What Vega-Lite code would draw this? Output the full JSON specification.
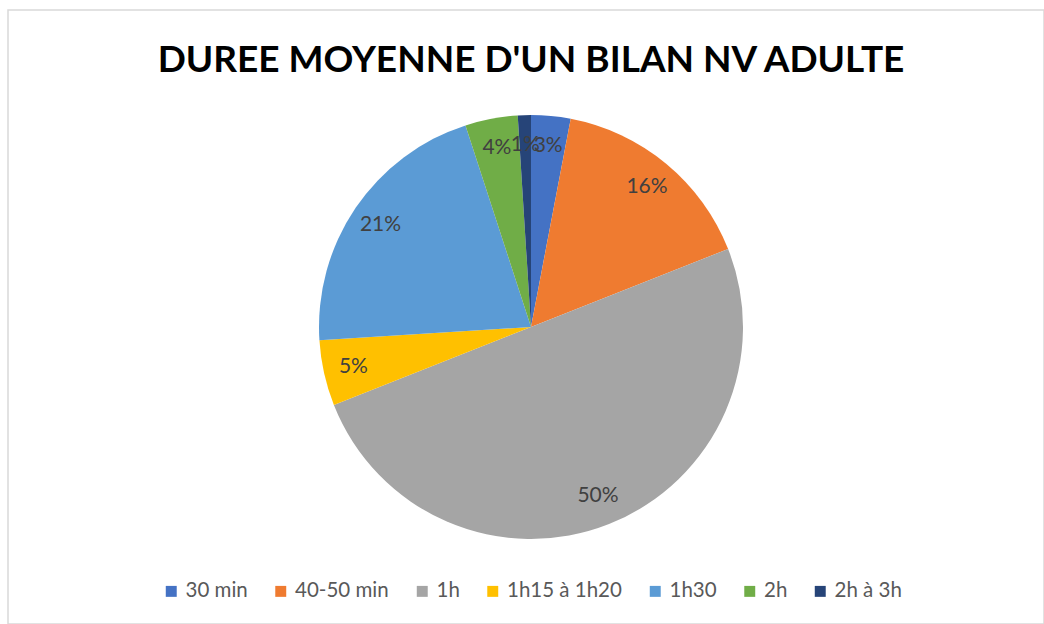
{
  "$schema": "https://vega.github.io/schema/vega-lite/v6.json",
  "autosize": "none",
  "padding": {"left": 8, "top": 10, "right": 0, "bottom": 0},
  "width": 1036,
  "height": 614,
  "background": "white",
  "view": {"stroke": "#d9d9d9", "strokeWidth": 1.5, "fill": "white"},
  "title": {
    "text": "DUREE MOYENNE D'UN BILAN NV ADULTE",
    "font": "Lato",
    "fontSize": 37,
    "fontWeight": "bold",
    "color": "#000000",
    "anchor": "middle",
    "dx": 5,
    "offset": -70
  },
  "data": {
    "values": [
      {"duree": "30 min", "pct": 3, "ord": 1, "label": "3%"},
      {"duree": "40-50 min", "pct": 16, "ord": 2, "label": "16%"},
      {"duree": "1h", "pct": 50, "ord": 3, "label": "50%"},
      {"duree": "1h15 à 1h20", "pct": 5, "ord": 4, "label": "5%"},
      {"duree": "1h30", "pct": 21, "ord": 5, "label": "21%"},
      {"duree": "2h", "pct": 4, "ord": 6, "label": "4%"},
      {"duree": "2h à 3h", "pct": 1, "ord": 7, "label": "1%"}
    ]
  },
  "encoding": {
    "theta": {"field": "pct", "type": "quantitative", "stack": true},
    "order": {"field": "ord", "type": "quantitative"}
  },
  "layer": [
    {
      "mark": {"type": "arc", "outerRadius": 212, "xOffset": 5, "yOffset": 10},
      "encoding": {
        "color": {
          "field": "duree",
          "type": "nominal",
          "sort": ["30 min", "40-50 min", "1h", "1h15 à 1h20", "1h30", "2h", "2h à 3h"],
          "scale": {
            "domain": ["30 min", "40-50 min", "1h", "1h15 à 1h20", "1h30", "2h", "2h à 3h"],
            "range": ["#4472C4", "#EF7B30", "#A5A5A5", "#FFC000", "#5B9BD5", "#70AD47", "#264478"]
          },
          "legend": {
            "title": null,
            "orient": "none",
            "direction": "horizontal",
            "columns": 7,
            "legendX": 153,
            "legendY": 571,
            "symbolType": "square",
            "symbolSize": 120,
            "symbolStrokeWidth": 0,
            "labelFont": "Lato",
            "labelFontSize": 20.5,
            "labelColor": "#595959",
            "labelOffset": 4,
            "columnPadding": 22.5
          }
        }
      }
    },
    {
      "mark": {"type": "text", "radius": 182, "xOffset": 5, "yOffset": 10, "font": "Lato", "fontSize": 21, "fill": "#404040"},
      "encoding": {"text": {"field": "label", "type": "nominal"}}
    }
  ]
}
